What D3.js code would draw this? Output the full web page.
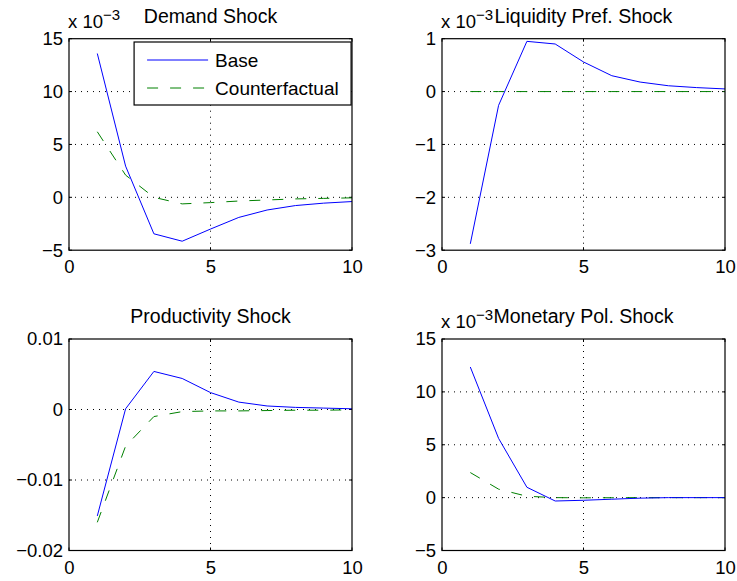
<!DOCTYPE html>
<html>
<head>
<meta charset="utf-8">
<script src="https://cdn.jsdelivr.net/npm/d3@7"></script>
<style>
  html, body { margin: 0; padding: 0; background: #fff; }
  svg { display: block; font-family: "Liberation Sans", Arial, Helvetica, sans-serif; }
</style>
</head>
<body>
<svg id="chart" width="737" height="581"></svg>
<script>
// ---- data ----
const periods = [1, 2, 3, 4, 5, 6, 7, 8, 9, 10];
const xTicks = [0, 5, 10];

const titles = ["Demand Shock", "Liquidity Pref. Shock", "Productivity Shock", "Monetary Pol. Shock"];
const seriesNames = ["Base", "Counterfactual"];

const demandBase = [13.6e-3, 2.95e-3, -3.45e-3, -4.15e-3, -3.0e-3, -1.9e-3, -1.2e-3, -0.78e-3, -0.55e-3, -0.4e-3];
const demandCf   = [6.2e-3, 2.1e-3, 0.0e-3, -0.62e-3, -0.5e-3, -0.35e-3, -0.25e-3, -0.15e-3, -0.1e-3, -0.05e-3];

const liquidityBase = [-2.88e-3, -0.26e-3, 0.95e-3, 0.9e-3, 0.56e-3, 0.3e-3, 0.18e-3, 0.11e-3, 0.075e-3, 0.05e-3];
const liquidityCf   = [0, 0, 0, 0, 0, 0, 0, 0, 0, 0];

const productivityBase = [-0.0151, 0.0001, 0.0054, 0.0044, 0.0024, 0.00105, 0.0005, 0.0003, 0.0002, 0.0001];
const productivityCf   = [-0.016, -0.0052, -0.001, -0.0003, -0.0002, -0.0002, -0.00015, -0.0001, -0.0001, -0.00005];

const monetaryBase = [12.35e-3, 5.6e-3, 0.98e-3, -0.32e-3, -0.25e-3, -0.15e-3, -0.05e-3, 0, 0, 0];
const monetaryCf   = [2.37e-3, 0.8e-3, 0.13e-3, 0.0, -0.02e-3, -0.01e-3, 0, 0, 0, 0];

const yTicksDemand = [-5e-3, 0, 5e-3, 10e-3, 15e-3];
const yTicksLiquidity = [-3e-3, -2e-3, -1e-3, 0, 1e-3];
const yTicksProductivity = [-0.02, -0.01, 0, 0.01];
const yTicksMonetary = [-5e-3, 0, 5e-3, 10e-3, 15e-3];

const yTickLabelsDemand = ["\u22125", "0", "5", "10", "15"];
const yTickLabelsLiquidity = ["\u22123", "\u22122", "\u22121", "0", "1"];
const yTickLabelsProductivity = ["\u22120.02", "\u22120.01", "0", "0.01"];
const yTickLabelsMonetary = ["\u22125", "0", "5", "10", "15"];

const panels = [
  { title: titles[0], base: demandBase, cf: demandCf, ticks: yTicksDemand, labels: yTickLabelsDemand, exp: true, legend: true,
    left: 69, top: 38.7 },
  { title: titles[1], base: liquidityBase, cf: liquidityCf, ticks: yTicksLiquidity, labels: yTickLabelsLiquidity, exp: true, legend: false,
    left: 442, top: 38.7 },
  { title: titles[2], base: productivityBase, cf: productivityCf, ticks: yTicksProductivity, labels: yTickLabelsProductivity, exp: false, legend: false,
    left: 69, top: 339 },
  { title: titles[3], base: monetaryBase, cf: monetaryCf, ticks: yTicksMonetary, labels: yTickLabelsMonetary, exp: true, legend: false,
    left: 442, top: 339 }
];

const W = 283, H = 211.5;
const blue = "#0000ff", green = "#008000";
const dash = "11,12";
const svg = d3.select("#chart");

panels.forEach(p => {
  const g = svg.append("g").attr("transform", `translate(${p.left},${p.top})`);
  const x = d3.scaleLinear().domain([0, 10]).range([0, W]);
  const y = d3.scaleLinear().domain([p.ticks[0], p.ticks[p.ticks.length - 1]]).range([H, 0]);

  // grid
  g.append("g").selectAll("line.gx").data(xTicks.slice(1, -1)).join("line")
    .attr("x1", d => x(d)).attr("x2", d => x(d)).attr("y1", 0).attr("y2", H)
    .attr("stroke", "#000").attr("stroke-width", 1).attr("stroke-dasharray", "1,5");
  g.append("g").selectAll("line.gy").data(p.ticks.slice(1, -1)).join("line")
    .attr("x1", 0).attr("x2", W).attr("y1", d => y(d)).attr("y2", d => y(d))
    .attr("stroke", "#000").attr("stroke-width", 1).attr("stroke-dasharray", "1,5");

  // axes with labels
  const xAxis = d3.axisBottom(x).tickValues(xTicks).tickSize(0).tickPadding(10).tickFormat(d3.format("d"));
  const gx = g.append("g").attr("transform", `translate(0,${H})`).call(xAxis);
  gx.select(".domain").remove();
  gx.selectAll("text").attr("font-size", 18.5).attr("fill", "#000").attr("font-family", "Liberation Sans, Arial, sans-serif");

  const yAxis = d3.axisLeft(y).tickValues(p.ticks).tickSize(0).tickPadding(6)
    .tickFormat((d, i) => p.labels[i]);
  const gy = g.append("g").call(yAxis);
  gy.select(".domain").remove();
  gy.selectAll("text").attr("font-size", 18.5).attr("fill", "#000").attr("font-family", "Liberation Sans, Arial, sans-serif");

  // inward ticks on all sides
  const tl = 3;
  xTicks.forEach(t => {
    g.append("line").attr("x1", x(t)).attr("x2", x(t)).attr("y1", H).attr("y2", H - tl).attr("stroke", "#000");
    g.append("line").attr("x1", x(t)).attr("x2", x(t)).attr("y1", 0).attr("y2", tl).attr("stroke", "#000");
  });
  p.ticks.forEach(t => {
    g.append("line").attr("x1", 0).attr("x2", tl).attr("y1", y(t)).attr("y2", y(t)).attr("stroke", "#000");
    g.append("line").attr("x1", W).attr("x2", W - tl).attr("y1", y(t)).attr("y2", y(t)).attr("stroke", "#000");
  });

  // lines
  const line = d3.line().x((d, i) => x(periods[i])).y(d => y(d));
  g.append("path").datum(p.cf).attr("d", line).attr("fill", "none")
    .attr("stroke", green).attr("stroke-width", 1).attr("stroke-dasharray", dash);
  g.append("path").datum(p.base).attr("d", line).attr("fill", "none")
    .attr("stroke", blue).attr("stroke-width", 1);

  // box
  g.append("rect").attr("x", 0).attr("y", 0).attr("width", W).attr("height", H)
    .attr("fill", "none").attr("stroke", "#000").attr("stroke-width", 1.2);

  // title
  g.append("text").attr("x", W / 2).attr("y", -16).attr("text-anchor", "middle")
    .attr("font-size", 19.5).attr("fill", "#000").text(p.title);

  // exponent
  if (p.exp) {
    const t = g.append("text").attr("x", -1).attr("y", -11).attr("font-size", 18.5).attr("fill", "#000");
    t.append("tspan").text("x 10");
    t.append("tspan").attr("dy", -8).attr("font-size", 15).text("\u22123");
  }

  // legend
  if (p.legend) {
    const lg = g.append("g").attr("transform", `translate(${x(2.3)},${3.3})`);
    lg.append("rect").attr("x", 0).attr("y", 0).attr("width", 217).attr("height", 63)
      .attr("fill", "#fff").attr("stroke", "#000").attr("stroke-width", 1.2);
    const items = [{ name: seriesNames[0], color: blue, dash: null }, { name: seriesNames[1], color: green, dash: dash }];
    items.forEach((it, i) => {
      const yy = 18 + i * 28;
      lg.append("line").attr("x1", 13).attr("x2", 74).attr("y1", yy).attr("y2", yy)
        .attr("stroke", it.color).attr("stroke-width", 1).attr("stroke-dasharray", it.dash);
      lg.append("text").attr("x", 81).attr("y", yy + 6.5).attr("font-size", 19).attr("fill", "#000").text(it.name);
    });
  }
});
</script>
</body>
</html>
